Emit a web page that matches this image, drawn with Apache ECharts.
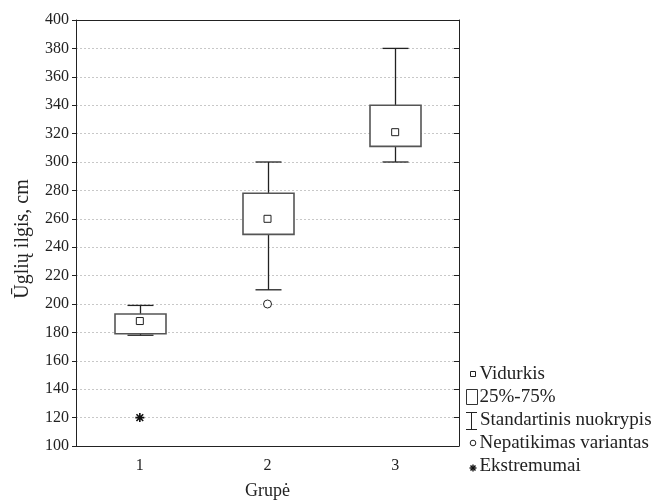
<!DOCTYPE html>
<html>
<head>
<meta charset="utf-8">
<script src="https://cdn.jsdelivr.net/npm/echarts@6/dist/echarts.min.js"></script>
<style>html,body{margin:0;padding:0;background:#fff}#c{width:659px;height:503px}</style>
</head>
<body>
<div id="c"></div>
<script>
const categories = ['1', '2', '3'];
const whiskerLow = [178, 210, 300];
const boxLow = [179, 249, 311];
const boxHigh = [193, 278, 340];
const whiskerHigh = [199, 300, 380];
const means = [188, 260, 321];
const outliers = [[1, 200]];
const extremes = [[0, 120]];
const yTicks = { min: 100, max: 400, step: 20 };

const FONT = 'Liberation Serif';
const chart = echarts.init(document.getElementById('c'), null, { renderer: 'canvas' });

const boxData = categories.map((c, i) => [i, boxLow[i], boxHigh[i]]);
const whiskerData = categories.map((c, i) => [i, whiskerLow[i], boxLow[i], boxHigh[i], whiskerHigh[i]]);
const meanData = categories.map((c, i) => [i, means[i]]);

const BOX_W = 51, CAP_W = 26;
const LF = '19px "Liberation Serif"';

const option = {
  animation: false,
  backgroundColor: '#fff',
  grid: { left: 76, right: 200, top: 20, bottom: 57, containLabel: false, outerBoundsMode: 'none' },
  xAxis: [{
    type: 'category', data: categories, boundaryGap: true, position: 'bottom',
    axisLine: { lineStyle: { color: '#222', width: 1 } },
    axisTick: { alignWithLabel: true, inside: true, length: 5, lineStyle: { color: '#222' } },
    axisLabel: { fontFamily: FONT, fontSize: 16, color: '#222', margin: 12 },
    name: 'Grupė', nameLocation: 'middle', nameGap: 36,
    nameTextStyle: { fontFamily: FONT, fontSize: 18, color: '#222' },
    splitLine: { show: false }
  }, {
    type: 'category', data: categories, boundaryGap: true, position: 'top',
    axisLine: { lineStyle: { color: '#222', width: 1 } },
    axisTick: { alignWithLabel: true, inside: true, length: 5, lineStyle: { color: '#222' } },
    axisLabel: { show: false }, splitLine: { show: false }
  }],
  yAxis: [{
    type: 'value', min: yTicks.min, max: yTicks.max, interval: yTicks.step, position: 'left',
    axisLine: { show: true, lineStyle: { color: '#222', width: 1 } },
    axisTick: { show: true, inside: false, length: 4, lineStyle: { color: '#222' } },
    axisLabel: { fontFamily: FONT, fontSize: 16, color: '#222', margin: 7 },
    splitLine: { show: true, lineStyle: { color: '#c8c8c8', type: [2, 2], width: 1 } },
    name: 'Ūglių ilgis, cm', nameLocation: 'middle', nameGap: 43, nameRotate: 90,
    nameTextStyle: { fontFamily: FONT, fontSize: 20, color: '#222', padding: [0, 12, 0, 0] }
  }, {
    type: 'value', min: yTicks.min, max: yTicks.max, interval: yTicks.step, position: 'right',
    axisLine: { show: true, lineStyle: { color: '#222', width: 1 } },
    axisTick: { show: true, inside: true, length: 5, lineStyle: { color: '#222' } },
    axisLabel: { show: false }, splitLine: { show: false }
  }],
  series: [{
    name: 'Standartinis nuokrypis', type: 'custom', xAxisIndex: 0, yAxisIndex: 0, z: 2,
    data: whiskerData,
    renderItem: function (params, api) {
      const i = api.value(0);
      const pLo = api.coord([i, api.value(1)]);
      const pBL = api.coord([i, api.value(2)]);
      const pBH = api.coord([i, api.value(3)]);
      const pHi = api.coord([i, api.value(4)]);
      const x = Math.round(pLo[0]) + 0.5;
      const st = { stroke: '#222', lineWidth: 1.3, fill: null };
      return { type: 'group', children: [
        { type: 'line', shape: { x1: x, y1: pHi[1], x2: x, y2: pBH[1] }, style: st },
        { type: 'line', shape: { x1: x, y1: pBL[1], x2: x, y2: pLo[1] }, style: st },
        { type: 'line', shape: { x1: x - CAP_W / 2, y1: pHi[1], x2: x + CAP_W / 2, y2: pHi[1] }, style: st },
        { type: 'line', shape: { x1: x - CAP_W / 2, y1: pLo[1], x2: x + CAP_W / 2, y2: pLo[1] }, style: st }
      ]};
    }
  }, {
    name: '25%-75%', type: 'custom', xAxisIndex: 0, yAxisIndex: 0, z: 3,
    data: boxData,
    renderItem: function (params, api) {
      const i = api.value(0);
      const pL = api.coord([i, api.value(1)]);
      const pH = api.coord([i, api.value(2)]);
      const x = Math.round(pL[0]) + 0.5;
      return { type: 'rect', shape: { x: x - BOX_W / 2, y: pH[1], width: BOX_W, height: pL[1] - pH[1] },
        style: { fill: '#fff', stroke: '#555', lineWidth: 1.6 } };
    }
  }, {
    name: 'Vidurkis', type: 'scatter', xAxisIndex: 0, yAxisIndex: 0, z: 4,
    data: meanData, symbol: 'rect', symbolSize: 7,
    itemStyle: { color: '#fff', borderColor: '#222', borderWidth: 1, opacity: 1 }
  }, {
    name: 'Nepatikimas variantas', type: 'scatter', xAxisIndex: 0, yAxisIndex: 0, z: 4,
    data: outliers, symbol: 'circle', symbolSize: 8,
    itemStyle: { color: '#fff', borderColor: '#222', borderWidth: 1, opacity: 1 }
  }, {
    name: 'Ekstremumai', type: 'scatter', xAxisIndex: 0, yAxisIndex: 0, z: 4,
    data: extremes, symbol: 'path://M0,4L8,4M4,0L4,8M1,1L7,7M7,1L1,7', symbolSize: 9,
    itemStyle: { color: 'transparent', borderColor: '#111', borderWidth: 1.6, opacity: 1 }
  }],
  graphic: [
    { type: 'rect', shape: { x: 470.5, y: 371.5, width: 5, height: 5 }, style: { fill: '#fff', stroke: '#222', lineWidth: 1 } },
    { type: 'text', x: 479.5, y: 374, style: { text: 'Vidurkis', font: LF, fill: '#222', verticalAlign: 'middle' } },
    { type: 'rect', shape: { x: 466.5, y: 389.5, width: 11, height: 15 }, style: { fill: '#fff', stroke: '#333', lineWidth: 1 } },
    { type: 'text', x: 479.5, y: 397, style: { text: '25%-75%', font: LF, fill: '#222', verticalAlign: 'middle' } },
    { type: 'line', shape: { x1: 466, y1: 412.5, x2: 477, y2: 412.5 }, style: { stroke: '#222', lineWidth: 1 } },
    { type: 'line', shape: { x1: 471.5, y1: 412.5, x2: 471.5, y2: 429.5 }, style: { stroke: '#222', lineWidth: 1 } },
    { type: 'line', shape: { x1: 466, y1: 429.5, x2: 477, y2: 429.5 }, style: { stroke: '#222', lineWidth: 1 } },
    { type: 'text', x: 480, y: 420, style: { text: 'Standartinis nuokrypis', font: LF, fill: '#222', verticalAlign: 'middle' } },
    { type: 'circle', shape: { cx: 473, cy: 443, r: 2.8 }, style: { fill: '#fff', stroke: '#222', lineWidth: 1 } },
    { type: 'text', x: 479.5, y: 443, style: { text: 'Nepatikimas variantas', font: LF, fill: '#222', verticalAlign: 'middle' } },
    { type: 'line', shape: { x1: 469.5, y1: 468, x2: 476.5, y2: 468 }, style: { stroke: '#111', lineWidth: 1.4 } },
    { type: 'line', shape: { x1: 473, y1: 464.5, x2: 473, y2: 471.5 }, style: { stroke: '#111', lineWidth: 1.4 } },
    { type: 'line', shape: { x1: 470.5, y1: 465.5, x2: 475.5, y2: 470.5 }, style: { stroke: '#111', lineWidth: 1.4 } },
    { type: 'line', shape: { x1: 475.5, y1: 465.5, x2: 470.5, y2: 470.5 }, style: { stroke: '#111', lineWidth: 1.4 } },
    { type: 'text', x: 479.5, y: 466, style: { text: 'Ekstremumai', font: LF, fill: '#222', verticalAlign: 'middle' } }
  ]
};
chart.setOption(option);
</script>
</body>
</html>
